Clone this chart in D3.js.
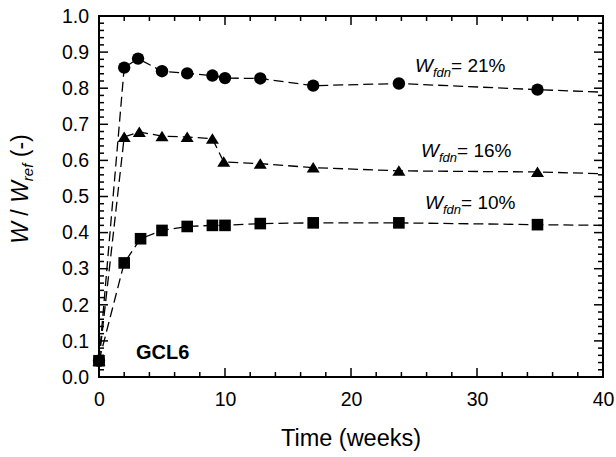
<!DOCTYPE html>
<html>
<head>
<meta charset="utf-8">
<script src="https://cdn.jsdelivr.net/npm/d3@7"></script>
<style>
  body { margin: 0; background: #fff; }
  text { font-family: Arial, "Liberation Sans", sans-serif; fill: #000; }
</style>
</head>
<body>
<div class="svg_container"></div>
<script>
const WIDTH = 616;
const HEIGHT = 457;
const MARGIN = {top: 16, right: 13, bottom: 80, left: 99};
const INNER_WIDTH = WIDTH - MARGIN.left - MARGIN.right;
const INNER_HEIGHT = HEIGHT - MARGIN.top - MARGIN.bottom;

// time in weeks, W/Wref
var timeCircle   = [0, 2, 3.1, 5, 7, 9, 10, 12.8, 17, 23.8, 34.8];
var valCircle    = [0.045, 0.857, 0.882, 0.847, 0.841, 0.835, 0.828, 0.827, 0.807, 0.813, 0.796];
var timeTriangle = [0, 2, 3.2, 5, 7, 9, 9.9, 12.8, 17, 23.8, 34.8];
var valTriangle  = [0.045, 0.665, 0.679, 0.667, 0.665, 0.660, 0.596, 0.591, 0.580, 0.571, 0.568];
var timeSquare   = [0, 2, 3.3, 5, 7, 9, 10, 12.8, 17, 23.8, 34.8];
var valSquare    = [0.045, 0.316, 0.383, 0.406, 0.417, 0.420, 0.420, 0.425, 0.427, 0.427, 0.422];
// where the dashed trend lines reach the right edge
var endTime = 40;
var endValues = [0.789, 0.563, 0.420];
var seriesLabels = ["21%", "16%", "10%"];

var xTicks = [0, 10, 20, 30, 40];
var yTicks = [0, 0.1, 0.2, 0.3, 0.4, 0.5, 0.6, 0.7, 0.8, 0.9, 1.0];

var translate = function (x, y) {
  return "translate(" + x + "," + y + ")";
};

var _xScale = d3.scaleLinear().domain([0, 40]).range([0, INNER_WIDTH]);
var _yScale = d3.scaleLinear().domain([0, 1]).range([INNER_HEIGHT, 0]);

var svg = d3.select('.svg_container').append('svg')
  .attr('width', WIDTH)
  .attr('height', HEIGHT);

var g = svg.append('g').attr('transform', translate(MARGIN.left, MARGIN.top));

// ticks, all pointing inward
var minorX = d3.range(0, 40.01, 2);
var minorY = d3.range(0, 1.001, 0.02);

var drawTicks = function () {
  var t = g.append('g').attr('stroke', '#000').attr('stroke-width', 1.5);
  minorX.forEach(function (v) {
    var len = (Math.round(v) % 10 === 0) ? 9 : 5;
    t.append('line').attr('x1', _xScale(v)).attr('x2', _xScale(v))
      .attr('y1', INNER_HEIGHT).attr('y2', INNER_HEIGHT - len);
    t.append('line').attr('x1', _xScale(v)).attr('x2', _xScale(v))
      .attr('y1', 0).attr('y2', len);
  });
  minorY.forEach(function (v) {
    var len = (Math.round(v * 100) % 10 === 0) ? 9 : 5;
    t.append('line').attr('y1', _yScale(v)).attr('y2', _yScale(v))
      .attr('x1', 0).attr('x2', len);
    t.append('line').attr('y1', _yScale(v)).attr('y2', _yScale(v))
      .attr('x1', INNER_WIDTH).attr('x2', INNER_WIDTH - len);
  });
};
drawTicks();

// axes for labels only
var xAxis = d3.axisBottom(_xScale).tickValues(xTicks).tickSize(0).tickPadding(15)
  .tickFormat(d3.format('d'));
g.append('g').attr('transform', translate(0, INNER_HEIGHT)).call(xAxis)
  .call(function (s) { s.select('.domain').remove(); })
  .selectAll('text').attr('font-size', 19.5);

var yAxis = d3.axisLeft(_yScale).tickValues(yTicks).tickSize(0).tickPadding(10)
  .tickFormat(d3.format('.1f'));
g.append('g').call(yAxis)
  .call(function (s) { s.select('.domain').remove(); })
  .selectAll('text').attr('font-size', 19.5);

// frame
g.append('rect').attr('x', 0).attr('y', 0)
  .attr('width', INNER_WIDTH).attr('height', INNER_HEIGHT)
  .attr('fill', 'none').attr('stroke', '#000').attr('stroke-width', 2);

var series = [
  {t: timeCircle, v: valCircle, shape: 'circle'},
  {t: timeTriangle, v: valTriangle, shape: 'triangle'},
  {t: timeSquare, v: valSquare, shape: 'square'}
];

var line = d3.line()
  .x(function (d) { return _xScale(d[0]); })
  .y(function (d) { return _yScale(d[1]); });

series.forEach(function (s, k) {
  var pts = s.t.map(function (t, i) { return [t, s.v[i]]; });
  var linePts = pts.concat([[endTime, endValues[k]]]);
  g.append('path')
    .attr('d', line(linePts))
    .attr('fill', 'none')
    .attr('stroke', '#000')
    .attr('stroke-width', 1.3)
    .attr('stroke-dasharray', '10,5');
});

var drawMarkers = function (s) {
  var pts = s.t.map(function (t, i) { return [t, s.v[i]]; });
  var sel = g.append('g').selectAll('.m').data(pts).enter();
  if (s.shape === 'circle') {
    sel.append('circle')
      .attr('cx', function (d) { return _xScale(d[0]); })
      .attr('cy', function (d) { return _yScale(d[1]); })
      .attr('r', 6.2).attr('fill', '#000');
  } else if (s.shape === 'square') {
    sel.append('rect')
      .attr('x', function (d) { return _xScale(d[0]) - 5.8; })
      .attr('y', function (d) { return _yScale(d[1]) - 5.8; })
      .attr('width', 11.6).attr('height', 11.6).attr('fill', '#000');
  } else {
    sel.append('path')
      .attr('d', function (d) {
        var x = _xScale(d[0]), y = _yScale(d[1]);
        return 'M' + x + ',' + (y - 5.5) + 'L' + (x + 6.5) + ',' + (y + 5) +
          'L' + (x - 6.5) + ',' + (y + 5) + 'Z';
      })
      .attr('fill', '#000');
  }
};
series.forEach(drawMarkers);

// series labels
var labelPos = [[415, 72], [421, 157], [425, 209]];
seriesLabels.forEach(function (lab, i) {
  var t = svg.append('text')
    .attr('x', labelPos[i][0]).attr('y', labelPos[i][1])
    .attr('font-size', 19);
  t.append('tspan').attr('font-style', 'italic').text('W');
  t.append('tspan').attr('font-style', 'italic').attr('font-size', 13)
    .attr('dy', 5).text('fdn');
  t.append('tspan').attr('dy', -5).text('= ' + lab);
});

svg.append('text').attr('x', 136).attr('y', 359)
  .attr('font-size', 20).attr('font-weight', 'bold').text('GCL6');

// axis titles
svg.append('text')
  .attr('x', MARGIN.left + INNER_WIDTH / 2).attr('y', 446)
  .attr('text-anchor', 'middle').attr('font-size', 23.5)
  .text('Time (weeks)');

var yl = svg.append('text')
  .attr('transform', translate(28, 189) + ' rotate(-90)')
  .attr('text-anchor', 'middle').attr('font-size', 23);
yl.append('tspan').attr('font-style', 'italic').text('W');
yl.append('tspan').text(' / ');
yl.append('tspan').attr('font-style', 'italic').text('W');
yl.append('tspan').attr('font-style', 'italic').attr('font-size', 15).attr('dy', 5).text('ref');
yl.append('tspan').attr('dy', -5).text(' (-)');
</script>
</body>
</html>
